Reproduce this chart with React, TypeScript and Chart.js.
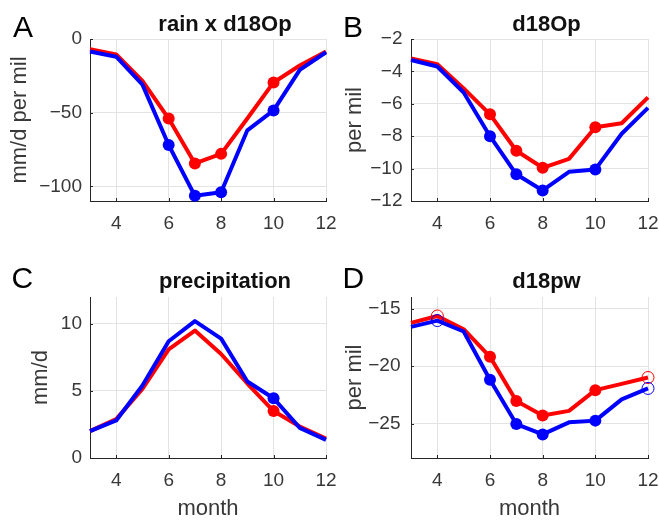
import React, { useEffect, useRef } from 'react';
import { Chart, registerables } from 'chart.js';

Chart.register(...registerables);

// ---------- data ----------
const months = [3, 4, 5, 6, 7, 8, 9, 10, 11, 12];
const xTicks = [4, 6, 8, 10, 12];

const rainRed = [-7, -10.5, -28.5, -54, -84.5, -78, -54, -29.5, -18, -8.5];
const rainBlue = [-8.5, -12, -31, -72, -106.5, -104, -62, -48.5, -21, -9];
const rainTicks = [-100, -50, 0];

const d18OpRed = [-3.2, -3.55, -5.05, -6.65, -8.9, -9.95, -9.4, -7.45, -7.2, -5.6];
const d18OpBlue = [-3.3, -3.7, -5.3, -8.0, -10.35, -11.35, -10.2, -10.05, -7.85, -6.25];
const d18OpTicks = [-12, -10, -8, -6, -4, -2];

const precipRed = [2.0, 2.9, 5.15, 8.1, 9.5, 7.75, 5.55, 3.5, 2.35, 1.45];
const precipBlue = [2.0, 2.8, 5.4, 8.7, 10.2, 8.9, 5.7, 4.45, 2.25, 1.35];
const precipTicks = [0, 5, 10];

const d18pwRed = [-16.25, -15.65, -16.8, -19.2, -23.05, -24.3, -23.9, -22.1, -21.55, -21.0];
const d18pwBlue = [-16.6, -16.05, -17.0, -21.2, -25.05, -25.95, -24.9, -24.75, -22.9, -21.95];
const d18pwTicks = [-25, -20, -15];

const markedMonths = [6, 7, 8, 10];
const markedPrecip = [10];
const openMonthsD = [4, 12];

// ---------- style ----------
const FONT = '"Liberation Sans", Arial, Helvetica, sans-serif';
const AXIS = '#262626';
const TEXT = '#383838';
const GRID = '#e3e3e3';
const RED = '#ff0000';
const BLUE = '#0000ff';

type Panel = {
  letter: string;
  title: string;
  yLabel: string;
  xLabel: string;
  red: number[];
  blue: number[];
  yMin: number;
  yMax: number;
  yTicks: number[];
  filled: number[];
  open: number[];
  pad: { left: number; top: number; right: number; bottom: number };
  yW: number;
  xH: number;
  yTitlePad: number;
  yTickPad: number;
  titleGap: number;
  letterX: number;
  letterY: number;
};

const panels: Panel[] = [
  {
    letter: 'A', title: 'rain x d18Op', yLabel: 'mm/d per mil', xLabel: '',
    red: rainRed, blue: rainBlue, yMin: -110, yMax: 0, yTicks: rainTicks,
    filled: markedMonths, open: [],
    pad: { left: 0, top: 39, right: 333, bottom: 280 }, yW: 90, xH: 40,
    yTitlePad: 8.7, yTickPad: 8, titleGap: 7.6, letterX: 13, letterY: 37,
  },
  {
    letter: 'B', title: 'd18Op', yLabel: 'per mil', xLabel: '',
    red: d18OpRed, blue: d18OpBlue, yMin: -12, yMax: -2, yTicks: d18OpTicks,
    filled: markedMonths, open: [],
    pad: { left: 330, top: 39, right: 11, bottom: 280 }, yW: 81, xH: 40,
    yTitlePad: 13.7, yTickPad: 8.5, titleGap: 8.0, letterX: 343, letterY: 36.7,
  },
  {
    letter: 'C', title: 'precipitation', yLabel: 'mm/d', xLabel: 'month',
    red: precipRed, blue: precipBlue, yMin: 0, yMax: 12, yTicks: precipTicks,
    filled: markedPrecip, open: [],
    pad: { left: 0, top: 297, right: 333, bottom: 0 }, yW: 90, xH: 63,
    yTitlePad: 29.7, yTickPad: 8, titleGap: 9.3, letterX: 11.5, letterY: 288.3,
  },
  {
    letter: 'D', title: 'd18pw', yLabel: 'per mil', xLabel: 'month',
    red: d18pwRed, blue: d18pwBlue, yMin: -28, yMax: -14, yTicks: d18pwTicks,
    filled: markedMonths, open: openMonthsD,
    pad: { left: 330, top: 297, right: 11, bottom: 0 }, yW: 81, xH: 63,
    yTitlePad: 13.7, yTickPad: 10.5, titleGap: 9.3, letterX: 342.5, letterY: 288.3,
  },
];

const fmt = (v: number) => String(v).replace('-', '\u2212');

const panelDecor = {
  id: 'panelDecor',
  beforeDatasetsDraw(chart: any) {
    const { ctx, chartArea } = chart;
    const xs = chart.scales.x;
    const ys = chart.scales.y;
    ctx.save();
    ctx.strokeStyle = AXIS;
    ctx.lineWidth = 1;
    ctx.beginPath();
    xs.ticks.forEach((t: any) => {
      const px = Math.round(xs.getPixelForValue(t.value)) + 0.5;
      ctx.moveTo(px, chartArea.bottom);
      ctx.lineTo(px, chartArea.bottom - 3);
    });
    ys.ticks.forEach((t: any) => {
      const py = Math.round(ys.getPixelForValue(t.value)) + 0.5;
      ctx.moveTo(chartArea.left, py);
      ctx.lineTo(chartArea.left + 3, py);
    });
    ctx.stroke();
    ctx.restore();
  },
  afterDraw(chart: any, _a: any, opts: any) {
    const { ctx, chartArea } = chart;
    ctx.save();
    ctx.fillStyle = '#111111';
    ctx.font = `bold 22px ${FONT}`;
    ctx.textAlign = 'center';
    ctx.textBaseline = 'alphabetic';
    ctx.fillText(opts.title, (chartArea.left + chartArea.right) / 2 + 17, chartArea.top - opts.titleGap);
    ctx.fillStyle = '#000000';
    ctx.font = `30px ${FONT}`;
    ctx.textAlign = 'left';
    ctx.fillText(opts.letter, opts.letterX, opts.letterY);
    ctx.restore();
  },
};

function makeDataset(values: number[], color: string, filled: number[], open: number[]) {
  return {
    data: months.map((m, i) => ({ x: m, y: values[i] })),
    borderColor: color,
    backgroundColor: color,
    borderWidth: 4,
    tension: 0,
    fill: false,
    borderJoinStyle: 'round' as const,
    pointRadius: months.map((m) => (filled.includes(m) ? 6 : open.includes(m) ? 6 : 0)),
    pointHoverRadius: 0,
    pointBackgroundColor: months.map((m) => (filled.includes(m) ? color : 'rgba(0,0,0,0)')),
    pointBorderColor: color,
    pointBorderWidth: months.map((m) => (open.includes(m) ? 1 : 0)),
    clip: false as any,
  };
}

function PanelChart({ p }: { p: Panel }) {
  const ref = useRef<HTMLCanvasElement>(null);
  useEffect(() => {
    const chart = new Chart(ref.current as HTMLCanvasElement, {
      type: 'line',
      data: {
        datasets: [
          makeDataset(p.blue, BLUE, p.filled, p.open),
          makeDataset(p.red, RED, p.filled, p.open),
        ] as any,
      },
      plugins: [panelDecor],
      options: {
        responsive: false,
        animation: false,
        events: [],
        layout: { padding: p.pad },
        plugins: {
          legend: { display: false },
          tooltip: { enabled: false },
          panelDecor: {
            title: p.title,
            letter: p.letter,
            letterX: p.letterX,
            letterY: p.letterY,
            titleGap: p.titleGap,
          },
        } as any,
        scales: {
          x: {
            type: 'linear',
            min: 3,
            max: 12,
            afterBuildTicks: (s: any) => {
              s.ticks = xTicks.map((v) => ({ value: v }));
            },
            afterFit: (s: any) => {
              s.height = p.xH;
              s.paddingLeft = 0;
              s.paddingRight = 0;
            },
            grid: { color: GRID, lineWidth: 1, drawTicks: false },
            border: { display: true, color: AXIS, width: 1 },
            ticks: {
              padding: 11,
              color: TEXT,
              font: { family: FONT, size: 19 },
              maxRotation: 0,
              autoSkip: false,
              callback: (v: any) => fmt(Number(v)),
            },
            title: {
              display: !!p.xLabel,
              text: p.xLabel,
              color: TEXT,
              font: { family: FONT, size: 22, lineHeight: 1 },
              padding: { top: 0, bottom: 0.9 },
            },
          },
          y: {
            type: 'linear',
            min: p.yMin,
            max: p.yMax,
            afterBuildTicks: (s: any) => {
              s.ticks = p.yTicks.map((v) => ({ value: v }));
            },
            afterFit: (s: any) => {
              s.width = p.yW;
              s.paddingTop = 0;
              s.paddingBottom = 0;
            },
            grid: { color: GRID, lineWidth: 1, drawTicks: false },
            border: { display: true, color: AXIS, width: 1 },
            ticks: {
              padding: p.yTickPad,
              color: TEXT,
              font: { family: FONT, size: 19 },
              autoSkip: false,
              callback: (v: any) => fmt(Number(v)),
            },
            title: {
              display: true,
              text: p.yLabel,
              color: TEXT,
              font: { family: FONT, size: 22, lineHeight: 1 },
              padding: { top: p.yTitlePad, bottom: 0 },
            },
          },
        },
      } as any,
    });
    return () => chart.destroy();
  }, []);
  return (
    <canvas
      ref={ref}
      width={659}
      height={521}
      style={{ position: 'absolute', left: 0, top: 0, width: 659, height: 521 }}
    />
  );
}

export default function App() {
  return (
    <div
      style={{
        position: 'absolute',
        left: 0,
        top: 0,
        width: 659,
        height: 521,
        background: '#ffffff',
        overflow: 'hidden',
      }}
    >
      {panels.map((p) => (
        <PanelChart key={p.letter} p={p} />
      ))}
    </div>
  );
}
